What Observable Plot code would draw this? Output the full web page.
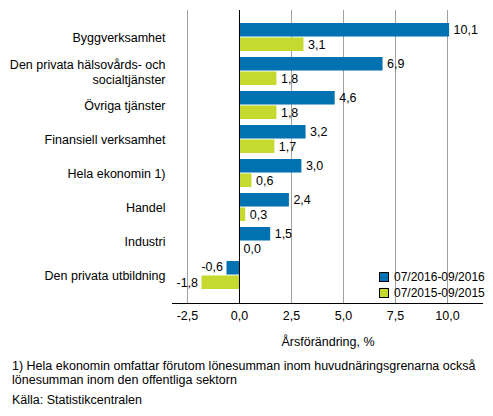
<!DOCTYPE html>
<html lang="sv">
<head>
    <meta charset="UTF-8">
    <title>Årsförändring</title>
    <style>
        body {
            margin: 0;
            background: #fff;
            font-family: "Liberation Sans", Arial, sans-serif;
            color: #000;
        }
        #wrap {
            position: relative;
            width: 493px;
            height: 416px;
        }
        .legend {
            position: absolute;
            left: 379px;
            top: 269px;
            font-size: 12px;
            line-height: 16px;
        }
        .legend span.sw {
            display: inline-block;
            width: 8px;
            height: 8px;
            border: 1px solid #000;
            margin-right: 5px;
            vertical-align: -1px;
        }
        .note {
            position: absolute;
            left: 12px;
            font-size: 12.5px;
            line-height: 14px;
        }
    </style>
    <script src="https://cdn.jsdelivr.net/npm/d3@7"></script>
    <script src="https://cdn.jsdelivr.net/npm/@observablehq/plot@0.6"></script>
</head>
<body>
<div id="wrap">
    <div id="chart"></div>
    <div class="legend" id="legend"></div>
    <div class="note" style="top:359px">1) Hela ekonomin omfattar förutom lönesumman inom huvudnäringsgrenarna också<br>lönesumman inom den offentliga sektorn</div>
    <div class="note" style="top:393px">Källa: Statistikcentralen</div>
</div>

<script>
    // Data
    const categories = [
        "Byggverksamhet",
        "Den privata hälsovårds- och socialtjänster",
        "Övriga tjänster",
        "Finansiell verksamhet",
        "Hela ekonomin 1)",
        "Handel",
        "Industri",
        "Den privata utbildning"
    ];
    const series = ["07/2016-09/2016", "07/2015-09/2015"];
    const values2016 = [10.1, 6.9, 4.6, 3.2, 3.0, 2.4, 1.5, -0.6];
    const values2015 = [3.1, 1.8, 1.8, 1.7, 0.6, 0.3, 0.0, -1.8];
    const xTicks = [-2.5, 0, 2.5, 5, 7.5, 10];
    const colors = ["#0072b2", "#c5d92e"];

    const rows = [];
    categories.forEach((c, i) => {
        rows.push({cat: c, series: series[0], value: values2016[i]});
        rows.push({cat: c, series: series[1], value: values2015[i]});
    });

    const fmt = d => d.toFixed(1).replace(".", ",").replace("-0,0", "0,0");

    // band geometry (two bars share one band)
    const yRange = [16.6, 295.8];
    const padIn = 0.17;
    const step = (yRange[1] - yRange[0]) / categories.length;
    const half = step * (1 - padIn) / 2;

    const upper = rows.filter(d => d.series === series[0]);
    const lower = rows.filter(d => d.series === series[1]);

    const plot = Plot.plot({
        width: 493,
        height: 350,
        marginLeft: 172,
        marginRight: 10,
        marginTop: 10,
        marginBottom: 47,
        style: {fontFamily: "Liberation Sans, Arial, sans-serif", fontSize: "12.5px", color: "#000", background: "#fff"},
        x: {domain: [-3.22, 11.73]},
        y: {domain: categories, range: yRange, paddingInner: padIn, paddingOuter: padIn / 2},
        color: {domain: series, range: colors},
        marks: [
            Plot.gridX(xTicks.filter(d => d !== 0), {stroke: "#a0a0a0", strokeOpacity: 1}),
            Plot.barX(upper, {x: "value", y: "cat", fill: "series", insetBottom: half}),
            Plot.barX(lower, {x: "value", y: "cat", fill: "series", insetTop: half}),
            Plot.ruleX([0], {stroke: "#000"}),
            Plot.text(upper.filter(d => d.value >= 0), {x: "value", y: "cat", text: d => fmt(d.value), dy: -half / 2, dx: 4, textAnchor: "start"}),
            Plot.text(upper.filter(d => d.value < 0), {x: "value", y: "cat", text: d => fmt(d.value), dy: -half / 2 - 1, dx: -4, textAnchor: "end"}),
            Plot.text(lower.filter(d => d.value >= 0), {x: "value", y: "cat", text: d => fmt(d.value), dy: half / 2, dx: 4, textAnchor: "start"}),
            Plot.text(lower.filter(d => d.value < 0), {x: "value", y: "cat", text: d => fmt(d.value), dy: half / 2, dx: -4, textAnchor: "end"}),
            Plot.axisY({tickSize: 0, tickPadding: 7, label: null, lineHeight: 1.2,
                tickFormat: d => d.replace("hälsovårds- och ", "hälsovårds- och\n")}),
            Plot.axisX(xTicks, {tickSize: 0, tickPadding: 8, tickFormat: fmt,
                label: "Årsförändring, %", labelAnchor: "center", labelArrow: "none", labelOffset: 42})
        ]
    });

    // bottom axis line across the frame
    d3.select(plot).append("line")
        .attr("x1", 172).attr("x2", 493 - 10)
        .attr("y1", 350 - 47 + 0.5).attr("y2", 350 - 47 + 0.5)
        .attr("stroke", "#000");

    document.getElementById("chart").appendChild(plot);

    const legend = document.getElementById("legend");
    series.forEach((s, i) => {
        const row = document.createElement("div");
        row.innerHTML = `<span class="sw" style="background:${colors[i]}"></span>${s}`;
        legend.appendChild(row);
    });
</script>
</body>
</html>
